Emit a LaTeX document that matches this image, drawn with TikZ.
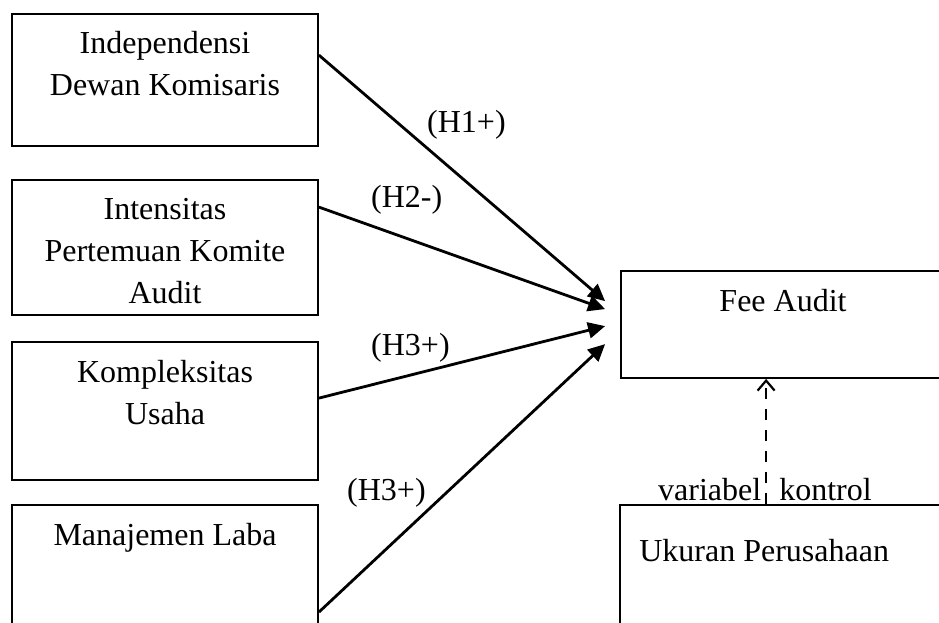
\documentclass[tikz,border=0pt]{standalone}
\usepackage{fontspec}
\setmainfont{Liberation Serif}
\usetikzlibrary{arrows.meta}
\begin{document}
\begin{tikzpicture}[x=1pt,y=-1pt,
  box/.style={draw,line width=1.8pt,rectangle,inner sep=0pt},
  txt/.style={font=\fontsize{32}{42}\selectfont,inner sep=0pt,align=center},
  hyp/.style={draw,line width=2.8pt,-{Triangle[length=17pt,width=16pt]}},
  ctrl/.style={draw,line width=1.6pt,dash pattern=on 11pt off 10pt,-{Straight Barb[length=10pt,width=17pt,line width=2.2pt]}}]
\useasboundingbox (0,0) rectangle (939,622);
\clip (0,0) rectangle (939,622);
% boxes
\node[box,minimum width=306pt,minimum height=132pt] (b1) at (165,80) {};
\node[box,minimum width=306pt,minimum height=135pt] (b2) at (165,247.5) {};
\node[box,minimum width=306pt,minimum height=138pt] (b3) at (165,411) {};
\node[box,minimum width=306pt,minimum height=140pt] (b4) at (165,575) {};
\node[box,minimum width=324pt,minimum height=107pt] (fee) at (783,324.5) {};
\node[box,minimum width=325pt,minimum height=140pt] (uk) at (782.5,575) {};
% box texts
\node[txt,anchor=base] (t1) at ([yshift=-82pt]b1.north) {Independensi\\Dewan Komisaris};
\node[txt,anchor=base] (t2) at ([yshift=-124pt]b2.north) {Intensitas\\Pertemuan Komite\\Audit};
\node[txt,anchor=base] (t3) at ([yshift=-83pt]b3.north) {Kompleksitas\\Usaha};
\node[txt,anchor=base] (t4) at ([yshift=-41pt]b4.north) {Manajemen Laba};
\node[txt,anchor=base] (tf) at ([yshift=-41pt]fee.north) {Fee Audit};
\node[txt,anchor=base west] (tu) at ([xshift=20pt,yshift=-57pt]uk.north west) {Ukuran Perusahaan};
\node[txt,anchor=base west] (tv) at (658,500) {variabel\hspace{10pt} kontrol};
% connectors
\draw[hyp] ([yshift=-42pt]b1.north east) -- ([xshift=-15pt,yshift=-31pt]fee.north west);
\draw[hyp] ([yshift=-28pt]b2.north east) -- ([xshift=-15pt,yshift=-39pt]fee.north west);
\draw[hyp] ([yshift=-57pt]b3.north east) -- ([xshift=-15pt,yshift=-56pt]fee.north west);
\draw[hyp] ([yshift=-108pt]b4.north east) -- ([xshift=-15pt,yshift=-74pt]fee.north west);
\draw[ctrl] ([xshift=147pt]uk.north west) -- ([xshift=146pt]fee.south west);
% hypothesis labels
\node[txt,anchor=base west] (h1) at (427,132) {(H1+)};
\node[txt,anchor=base west] (h2) at (371,207) {(H2-)};
\node[txt,anchor=base west] (h3) at (371,355) {(H3+)};
\node[txt,anchor=base west] (h4) at (347,500) {(H3+)};
\end{tikzpicture}
\end{document}
